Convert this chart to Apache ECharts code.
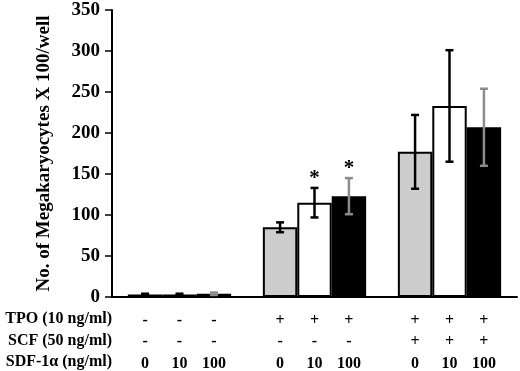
<!DOCTYPE html>
<html>
<head>
<meta charset="utf-8">
<script src="https://cdn.jsdelivr.net/npm/echarts@6/dist/echarts.min.js"></script>
<style>
  html, body { margin: 0; padding: 0; background: #fff; }
  #chart { width: 520px; height: 371px; }
</style>
</head>
<body>
<div id="chart"></div>
<script>
// treatment groups (TPO / SCF combos) on the x axis
const groups = ['none', 'TPO', 'TPO+SCF'];
const tpoRow = ['-', '+', '+'];
const scfRow = ['-', '-', '+'];
// SDF-1a doses, one bar series per dose
const sdfDoses = ['0', '10', '100'];
const means = [
  [3, 85, 177],   // SDF 0
  [3, 115, 233],  // SDF 10
  [4, 123, 207]   // SDF 100
];
const errors = [
  [1, 6, 45],
  [1, 18, 68],
  [1.5, 22, 47]
];
const starred = [
  [false, false, false],
  [false, true, false],
  [false, true, false]
];
const yTicks = [0, 50, 100, 150, 200, 250, 300, 350];
const rowLabels = ['TPO (10 ng/ml)', 'SCF (50 ng/ml)', 'SDF-1\u03b1 (ng/ml)'];

const fillColors = ['#cdcdcd', '#ffffff', '#000000'];
const errColors = ['#000', '#000', '#8c8c8c'];
const FONT = '"Liberation Serif", "Times New Roman", serif';
const CAT_GAP = 0.235;

const chart = echarts.init(document.getElementById('chart'));

const barSeries = sdfDoses.map((dose, s) => ({
  name: 'SDF ' + dose,
  type: 'bar',
  barGap: '0%',
  barCategoryGap: (CAT_GAP * 100) + '%',
  data: means[s],
  itemStyle: { color: fillColors[s], borderColor: '#000', borderWidth: 2 },
  label: {
    show: true,
    position: 'bottom',
    distance: 13,
    formatter: (p) => `{s|${tpoRow[p.dataIndex]}}\n{s|${scfRow[p.dataIndex]}}\n{s|${dose}}`,
    rich: { s: { fontFamily: FONT, fontWeight: 'bold', fontSize: 16, lineHeight: 21.5, color: '#000' } }
  },
  z: 2
}));

const errData = [];
means.forEach((row, s) => row.forEach((m, g) => {
  errData.push([g, s, m, errors[s][g], starred[s][g] ? 1 : 0]);
}));

const errSeries = {
  type: 'custom',
  z: 5,
  data: errData,
  encode: { x: 0, y: 2 },
  renderItem: (params, api) => {
    const g = api.value(0), s = api.value(1), m = api.value(2), e = api.value(3);
    const band = api.size([1, 0])[0];
    const bw = band * (1 - CAT_GAP) / 3;
    const cx = api.coord([g, 0])[0] + (s - 1) * bw;
    const yt = api.coord([g, m + e])[1];
    const yb = api.coord([g, m - e])[1];
    const style = { stroke: errColors[s], lineWidth: 2.5 };
    const cap = 4;
    const children = [
      { type: 'line', shape: { x1: cx, y1: yt, x2: cx, y2: yb }, style },
      { type: 'line', shape: { x1: cx - cap, y1: yt, x2: cx + cap, y2: yt }, style },
      { type: 'line', shape: { x1: cx - cap, y1: yb, x2: cx + cap, y2: yb }, style }
    ];
    if (api.value(4)) {
      children.push({
        type: 'text',
        style: { text: '*', x: cx, y: yt + 1, align: 'center', verticalAlign: 'bottom',
          fontFamily: FONT, fontWeight: 'bold', fontSize: 21, fill: '#000' }
      });
    }
    return { type: 'group', children };
  }
};

chart.setOption({
  animation: false,
  grid: { left: 112, right: 3, top: 10, bottom: 74 },
  xAxis: {
    type: 'category',
    data: groups,
    axisLine: { lineStyle: { color: '#000', width: 2 } },
    axisTick: { show: false },
    axisLabel: { show: false }
  },
  yAxis: {
    type: 'value',
    min: 0,
    max: 350,
    interval: 50,
    name: 'No. of Megakaryocytes X 100/well',
    nameLocation: 'middle',
    nameGap: 58,
    nameTextStyle: { fontFamily: FONT, fontWeight: 'bold', fontSize: 19, color: '#000' },
    axisLine: { show: true, lineStyle: { color: '#000', width: 2 } },
    axisTick: { show: true, length: 7, lineStyle: { color: '#000', width: 1.5 } },
    splitLine: { show: false },
    axisLabel: {
      margin: 12,
      fontFamily: FONT, fontWeight: 'bold', fontSize: 19, color: '#000',
      formatter: (v) => yTicks.includes(v) ? String(v) : ''
    }
  },
  graphic: rowLabels.map((t, i) => ({
    type: 'text',
    right: 408,
    top: 311 + i * 21.5,
    style: { text: t, fontFamily: FONT, fontWeight: 'bold', fontSize: 16, fill: '#000' }
  })),
  series: [...barSeries, errSeries]
});
</script>
</body>
</html>
